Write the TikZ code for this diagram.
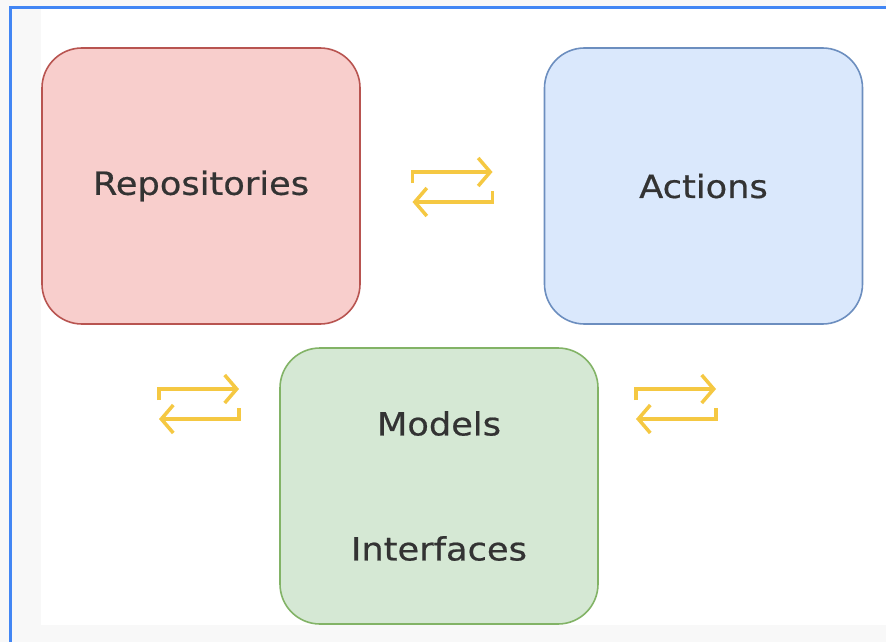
\documentclass[tikz,border=0pt]{standalone}
\usepackage{fontspec}
\setmainfont{DejaVu Sans}[FakeStretch=1.1,FakeBold=0.6]
\usetikzlibrary{arrows.meta}
\definecolor{pagegray}{HTML}{F8F8F8}
\definecolor{frameblue}{HTML}{4286F4}
\definecolor{textgray}{HTML}{333333}
\definecolor{swapyellow}{HTML}{F5C842}
\definecolor{repofill}{HTML}{F8CECC}
\definecolor{repoline}{HTML}{B85450}
\definecolor{actfill}{HTML}{DAE8FC}
\definecolor{actline}{HTML}{6C8EBF}
\definecolor{modfill}{HTML}{D5E8D4}
\definecolor{modline}{HTML}{82B366}
\tikzset{
  box/.style={rounded corners=40pt, minimum width=318pt, minimum height=276pt,
    line width=1.6pt, text=textgray, font=\fontsize{32}{38}\selectfont,
    align=center, inner sep=0pt},
  swaparrow/.style={draw=swapyellow, line width=3.5pt,
    -{Straight Barb[length=12pt,width=28pt]}}
}
\begin{document}
\begin{tikzpicture}[x=1pt,y=-1pt]
\useasboundingbox (0,0) rectangle (886,642);
% page and frame
\fill[pagegray] (0,0) rectangle (886,642);
\fill[white] (41,9) rectangle (886,625);
\draw[frameblue,line width=3pt] (10,642) -- (10,8) -- (886,8);
% boxes
\node[box,draw=repoline,fill=repofill] (repos) at (201,186) {Repositories};
\node[box,draw=actline,fill=actfill] (actions) at (703.5,186) {Actions};
\node[box,draw=modline,fill=modfill] (models) at (439,486) {Models\\[87pt]Interfaces};
% swap icons
\coordinate (swap-top) at (452.5,187);
\coordinate (swap-left) at (199,404);
\coordinate (swap-right) at (676,404);
\foreach \c in {swap-top,swap-left,swap-right}{
  \begin{scope}[shift={(\c)}]
    \draw[swaparrow] (-40,-4) -- (-40,-15) -- (40,-15);
    \draw[swaparrow] (40,4) -- (40,15) -- (-40,15);
  \end{scope}
}
\end{tikzpicture}
\end{document}
